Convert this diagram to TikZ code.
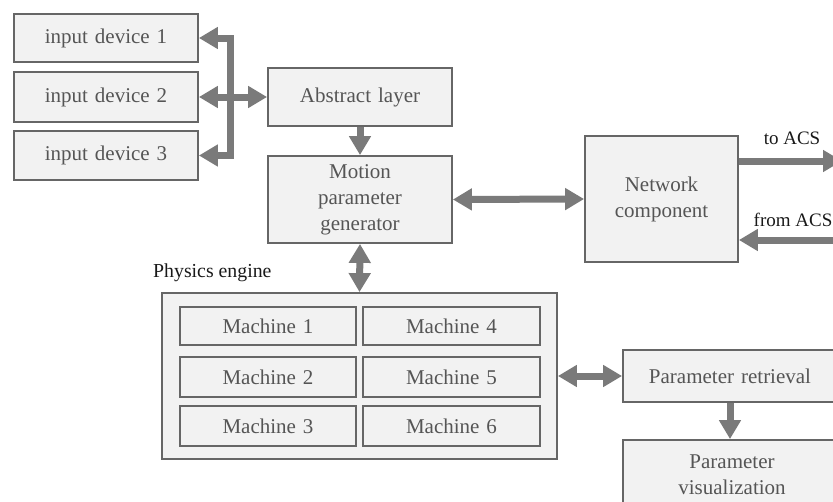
\documentclass[tikz,border=0pt]{standalone}
\usepackage{fontspec}
\setmainfont{Liberation Serif}
\usetikzlibrary{arrows.meta}
\definecolor{boxfill}{HTML}{F2F2F2}
\definecolor{boxline}{HTML}{666666}
\definecolor{arrcol}{HTML}{7A7A7A}
\definecolor{txtcol}{HTML}{555555}
\newcommand\widesp{\spaceskip=7pt\relax}
\begin{document}
\begin{tikzpicture}[x=1pt,y=-1pt,
  blk/.style={draw=boxline,fill=boxfill,line width=1.8pt,rectangle,inner sep=0pt,
    text=txtcol,align=center,font=\fontsize{21}{26}\selectfont\widesp},
  arr/.style={draw=arrcol,line width=7pt,line join=miter},
  tip/.tip={Triangle[length=19pt,width=21pt]},
  lbl/.style={text=black!90,font=\fontsize{19}{23}\selectfont,inner sep=0pt}]
\useasboundingbox (0,0) rectangle (833,501);
\clip (0,0) rectangle (833,501);
% input devices
\node[blk,minimum width=184pt,minimum height=48pt] (in1) at (106,38) {input device 1};
\node[blk,minimum width=184pt,minimum height=50pt] (in2) at (106,97) {input device 2};
\node[blk,minimum width=184pt,minimum height=49pt] (in3) at (106,155.5) {input device 3};
\node[blk,minimum width=184pt,minimum height=58pt] (abs) at (360,97) {Abstract layer};
\node[blk,minimum width=184pt,minimum height=87pt] (mot) at (360,199.5) {Motion\\parameter\\generator};
\node[blk,minimum width=153pt,minimum height=126pt] (net) at (661.5,199) {Network\\component};
% physics engine
\node[blk,minimum width=395pt,minimum height=166pt] (phys) at (359.5,376) {};
\node[lbl,anchor=west,font=\fontsize{19.8}{23}\selectfont] (physlbl) at (153,273) {Physics engine};
\node[blk,minimum width=176pt,minimum height=38pt] (m1) at (268,326) {Machine 1};
\node[blk,minimum width=176pt,minimum height=40pt] (m2) at (268,377) {Machine 2};
\node[blk,minimum width=176pt,minimum height=40pt] (m3) at (268,426) {Machine 3};
\node[blk,minimum width=177pt,minimum height=38pt] (m4) at (451.5,326) {Machine 4};
\node[blk,minimum width=177pt,minimum height=40pt] (m5) at (451.5,377) {Machine 5};
\node[blk,minimum width=177pt,minimum height=40pt] (m6) at (451.5,426) {Machine 6};
% parameter boxes
\node[blk,minimum width=214pt,minimum height=52pt] (ret) at (730,376) {Parameter retrieval};
\node[blk,minimum width=218pt,minimum height=80pt,text depth=0pt] (vis) at (732,480) {};
\node[text=txtcol,align=center,font=\fontsize{21}{26}\selectfont,inner sep=0pt] (vistxt) at (732,475) {Parameter\\visualization};
% connectors
\coordinate (bus) at (230,97);
\coordinate (acsout) at (842,161);
\coordinate (acsin) at (842,240);
\draw[arr,{tip}-{tip}] (in1.east) -- (bus |- in1.east) -- (bus |- in3.east) -- (in3.east);
\draw[arr,{tip}-{tip}] (in2.east) -- (abs.west);
\draw[arr,-{tip}] (abs.south) -- (mot.north);
\draw[arr,{tip}-{tip}] (mot.east) -- (net.west);
\draw[arr,-{tip}] (net.east |- acsout) -- (acsout);
\draw[arr,-{tip}] (acsin) -- (net.east |- acsin);
\draw[arr,{tip}-{tip}] (mot.south) -- (phys.north);
\draw[arr,{tip}-{tip}] (phys.east) -- (ret.west);
\draw[arr,-{tip}] (ret.south) -- (ret.south |- vis.north);
\node[lbl] (toacs) at (792,138) {to ACS};
\node[lbl] (fromacs) at (793,220) {from ACS};
\end{tikzpicture}
\end{document}
